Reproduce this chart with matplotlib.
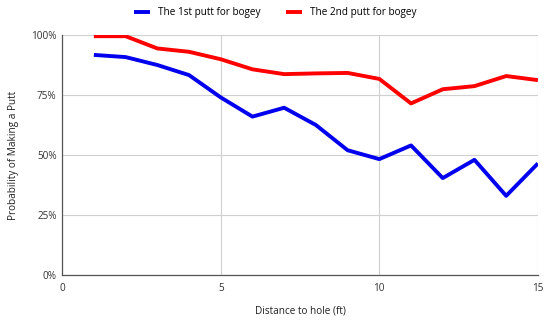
import matplotlib
matplotlib.use("Agg")
import matplotlib.pyplot as plt
from matplotlib.ticker import FuncFormatter

plt.rcParams['font.family'] = ['Open Sans', 'DejaVu Sans']

# distance to hole (ft)
distance = [1, 2, 3, 4, 5, 6, 7, 8, 9, 10, 11, 12, 13, 14, 15]
# probability of making the putt (%)
first_putt = [91.7, 90.8, 87.5, 83.3, 74.0, 66.0, 69.7, 62.5, 52.0, 48.3, 54.0, 40.4, 48.0, 33.0, 46.5]
second_putt = [99.5, 99.5, 94.4, 93.0, 89.9, 85.7, 83.7, 84.0, 84.2, 81.7, 71.5, 77.4, 78.7, 82.9, 81.2]

fig = plt.figure(figsize=(5.5, 3.24), dpi=100)
ax = fig.add_axes([0.113, 0.151, 0.865, 0.741])

ax.plot(distance, first_putt, color='#0000ee', lw=2.8, label='The 1st putt for bogey', solid_capstyle='butt')
ax.plot(distance, second_putt, color='#ff0000', lw=2.8, label='The 2nd putt for bogey', solid_capstyle='butt')

ax.set_xlim(0, 15)
ax.set_ylim(0, 100)
ax.set_xticks([0, 5, 10, 15])
ax.set_yticks([0, 25, 50, 75, 100])
ax.yaxis.set_major_formatter(FuncFormatter(lambda v, p: f"{int(v)}%"))
ax.grid(True, color='#d0d0d0', lw=0.8)
ax.set_axisbelow(True)

for s in ['top', 'right']:
    ax.spines[s].set_visible(False)
for s in ['left', 'bottom']:
    ax.spines[s].set_color('#555555')
    ax.spines[s].set_linewidth(0.9)
ax.tick_params(length=0, labelsize=7.2, colors='#333333', pad=4)
ax.tick_params(axis='x', pad=6)

ax.set_xlabel('Distance to hole (ft)', fontsize=7.2, color='#222222', labelpad=8)
ax.set_ylabel('Probability of Making a Putt', fontsize=7.2, color='#222222', labelpad=9)

fig.legend(loc='upper center', bbox_to_anchor=(0.5, 1.005), ncol=2, frameon=False,
           fontsize=7.2, handlelength=1.6, columnspacing=2.5)

fig.savefig('out.png', dpi=100)
